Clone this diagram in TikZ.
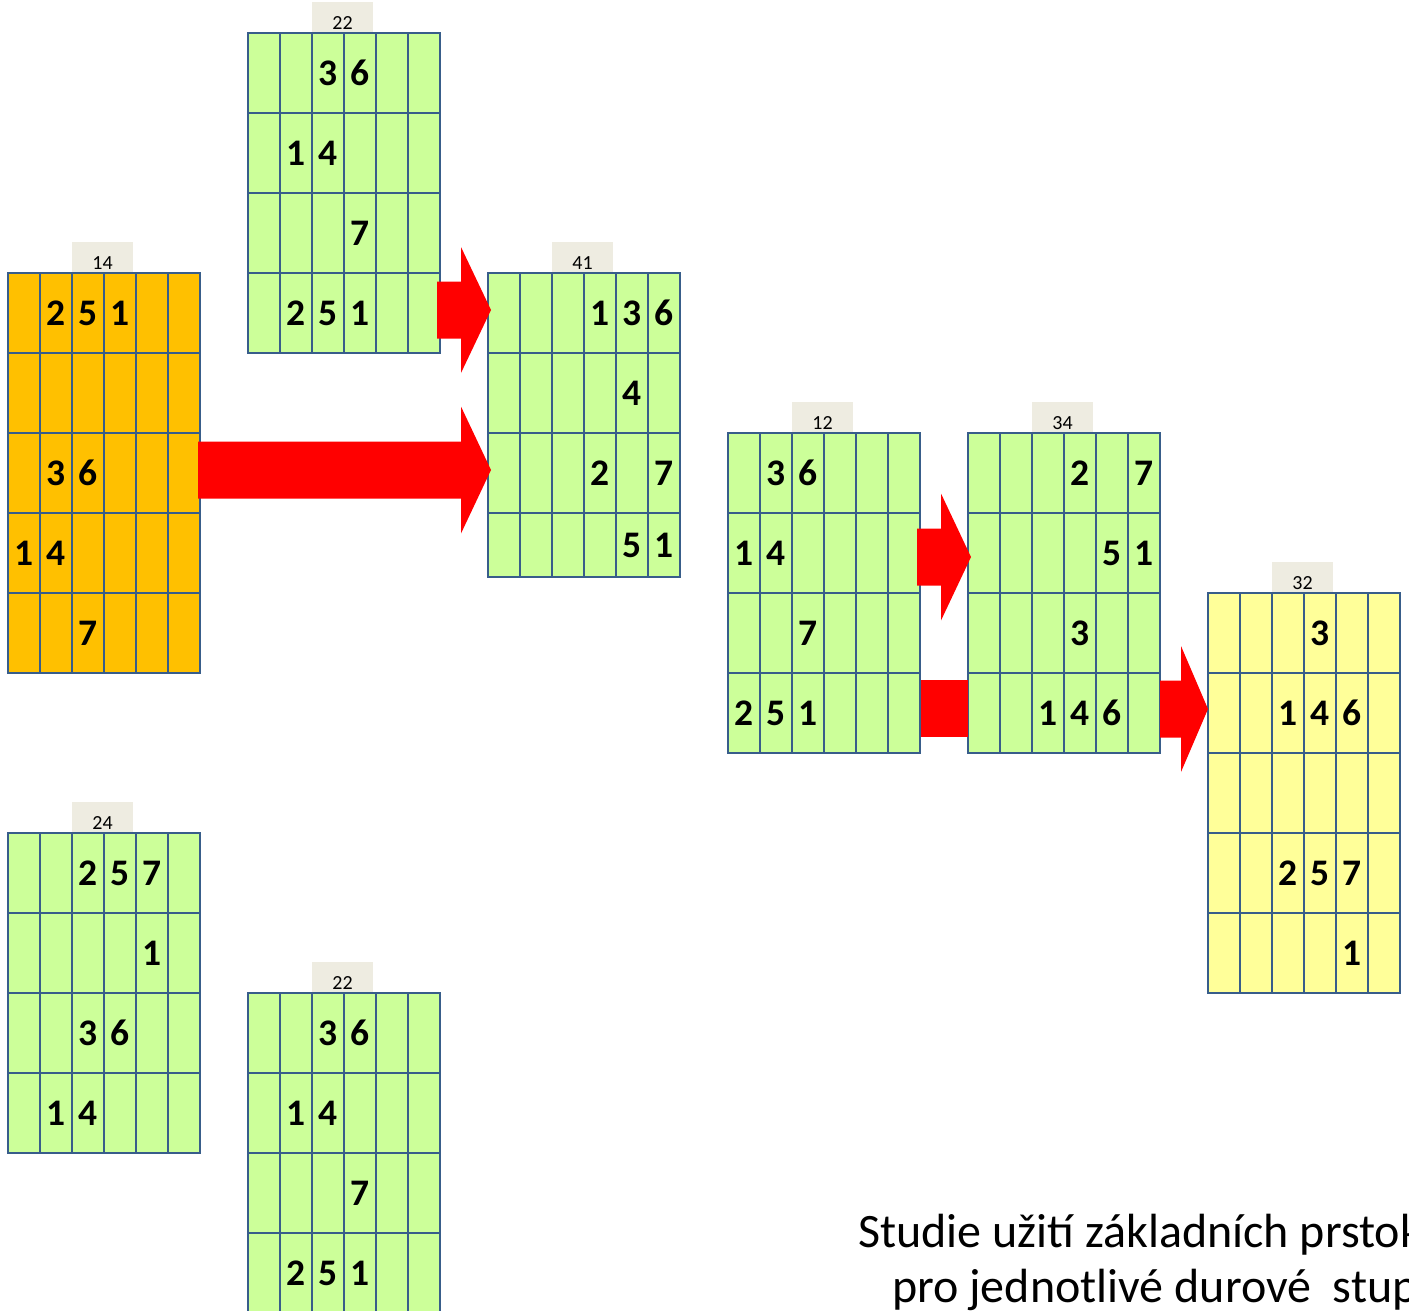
\documentclass[tikz,border=0pt]{standalone}
\usepackage{fontspec}
\setmainfont{Carlito}
\usetikzlibrary{calc}
\definecolor{cellgreen}{HTML}{CCFF99}
\definecolor{cellorange}{HTML}{FFC000}
\definecolor{cellyellow}{HTML}{FFFF99}
\definecolor{gridblue}{HTML}{385D8A}
\definecolor{labelbg}{HTML}{EEECE1}
\definecolor{arrowred}{HTML}{FF0000}
\tikzset{
  gridbox/.style={draw=gridblue, line width=2.75pt, minimum width=192pt, inner sep=0pt, outer sep=0pt, anchor=north west},
  gridline/.style={draw=gridblue, line width=2.75pt},
  labelbox/.style={fill=labelbg, minimum width=61pt, minimum height=31pt, inner sep=0pt, outer sep=0pt, anchor=south west},
  labeltext/.style={font=\fontsize{20}{24}\selectfont, inner sep=0pt},
  digit/.style={font=\fontsize{37.5}{44}\selectfont\bfseries, inner sep=0pt},
  redarrow/.style={fill=arrowred},
  captiontext/.style={font=\fontsize{48}{56}\selectfont, inner sep=0pt, anchor=base west},
}
% #1 name, #2 x, #3 y, #4 height, #5 row lines, #6 fill, #7 label, #8 digits col/row/digit
\newcommand{\fgrid}[8]{%
  \node[labelbox] (#1-lb) at ($(#2,#3)+(64,0)$) {};
  \node[gridbox, fill=#6, minimum height=#4pt] (#1) at (#2,#3) {};
  \foreach \gx in {32,64,...,160} \draw[gridline] ($(#1.north west)+(\gx,0)$) -- ($(#1.south west)+(\gx,0)$);
  \foreach \gy in {#5} \draw[gridline] ($(#1.north west)+(0,\gy)$) -- ($(#1.north east)+(0,\gy)$);
  \node[labeltext] (#1-lt) at ($(#1.north west)+(94.5,-9.5)$) {#7};
  \foreach \gc/\gr/\gd in {#8} \node[digit] (#1-\gr-\gc) at ($(#1.north west)+(32*\gc-16,80*\gr-40)$) {\gd};
}
% #1 start coordinate, #2 tip coordinate, #3 head length, #4 body half height, #5 head half height
\newcommand{\blockarrow}[5]{%
  \fill[redarrow] let \p1=(#1), \p2=(#2) in
    (\x1,\y1+#4) -- (\x2-#3,\y1+#4) -- (\x2-#3,\y1+#5) -- (\x2,\y2) --
    (\x2-#3,\y1-#5) -- (\x2-#3,\y1-#4) -- (\x1,\y1-#4) -- cycle;
}
\begin{document}
\begin{tikzpicture}[x=1pt,y=-1pt]
\useasboundingbox (0,0) rectangle (1409,1311);
\clip (0,0) rectangle (1409,1311);

\fgrid{g22t}{248}{33}{320}{80,160,240}{cellgreen}{22}{3/1/3,4/1/6,2/2/1,3/2/4,4/3/7,2/4/2,3/4/5,4/4/1}
\fgrid{g14}{8}{273}{400}{80,160,240,320}{cellorange}{14}{2/1/2,3/1/5,4/1/1,2/3/3,3/3/6,1/4/1,2/4/4,3/5/7}
\fgrid{g41}{488}{273}{304}{80,160,240}{cellgreen}{41}{4/1/1,5/1/3,6/1/6,5/2/4,4/3/2,6/3/7}
\node[digit] (g41-4-5) at ($(g41.north west)+(144,272)$) {5};
\node[digit] (g41-4-6) at ($(g41.north west)+(176,272)$) {1};
\fgrid{g12}{728}{433}{320}{80,160,240}{cellgreen}{12}{2/1/3,3/1/6,1/2/1,2/2/4,3/3/7,1/4/2,2/4/5,3/4/1}
\fgrid{g34}{968}{433}{320}{80,160,240}{cellgreen}{34}{4/1/2,6/1/7,5/2/5,6/2/1,4/3/3,3/4/1,4/4/4,5/4/6}
\fgrid{g32}{1208}{593}{400}{80,160,240,320}{cellyellow}{32}{4/1/3,3/2/1,4/2/4,5/2/6,3/4/2,4/4/5,5/4/7,5/5/1}
\fgrid{g24}{8}{833}{320}{80,160,240}{cellgreen}{24}{3/1/2,4/1/5,5/1/7,5/2/1,3/3/3,4/3/6,2/4/1,3/4/4}
\fgrid{g22b}{248}{993}{320}{80,160,240}{cellgreen}{22}{3/1/3,4/1/6,2/2/1,3/2/4,4/3/7,2/4/2,3/4/5,4/4/1}

% arrows
\coordinate (a1s) at (437,310);  \coordinate (a1t) at (491,310);
\coordinate (a2s) at (198,470);  \coordinate (a2t) at (491,470);
\coordinate (a3s) at (917,557);  \coordinate (a3t) at (971,557);
\coordinate (a4s) at (1160,709); \coordinate (a4t) at (1208,709);
\coordinate (b1s) at (921,680);  \coordinate (b1e) at (968,737);
\blockarrow{a1s}{a1t}{30pt}{28.5pt}{63pt}
\blockarrow{a2s}{a2t}{30pt}{28.5pt}{63.5pt}
\blockarrow{a3s}{a3t}{30pt}{28.5pt}{63.5pt}
\blockarrow{a4s}{a4t}{27pt}{28.5pt}{63pt}
\fill[redarrow] (b1s) rectangle (b1e);

% caption (cut off at the right edge, as in the reference)
\node[captiontext] (cap1) at (858,1247) {Studie užití základních prstokladů};
\node[captiontext] (cap2) at (892,1302) {pro jednotlivé durové\ \ stupnice};
\end{tikzpicture}
\end{document}
